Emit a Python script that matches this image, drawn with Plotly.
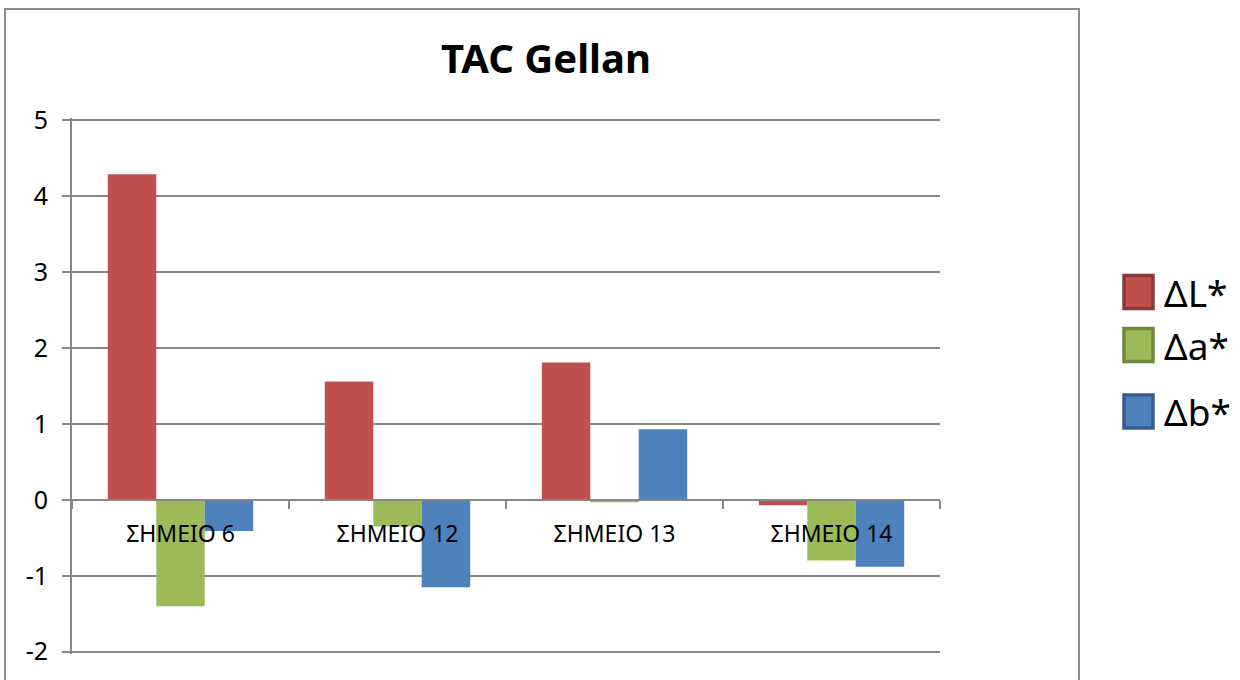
import plotly.graph_objects as go

# ---- data -------------------------------------------------------------
categories = ["ΣΗΜΕΙΟ 6", "ΣΗΜΕΙΟ 12", "ΣΗΜΕΙΟ 13", "ΣΗΜΕΙΟ 14"]
series_names = ["ΔL*", "Δa*", "Δb*"]
delta_L = [4.29, 1.56, 1.81, -0.07]
delta_a = [-1.40, -0.35, -0.03, -0.80]
delta_b = [-0.41, -1.15, 0.93, -0.88]
y_ticks = [-2, -1, 0, 1, 2, 3, 4, 5]

# ---- styling ------------------------------------------------------------
fills = ["#C0504D", "#9BBB59", "#4F81BD"]
edges = ["#8C3836", "#71893F", "#385D8A"]
grid_col = "#878787"
FONT = "Noto Sans"

W, H = 1240, 680
y_min, y_max = y_ticks[0], y_ticks[-1]
GL, GR, GT, GB = 72, 940, 120, 652   # where the outer gridlines sit, in pixels
eps = 0.03                            # range padding so end gridlines are drawn
unit = (GB - GT) / (y_max - y_min)
PL, PR = GL, GR
PT, PB = GT - eps * unit, GB + eps * unit


def px_x(p):
    return (p - PL) / (PR - PL)


def px_y(p):
    return (PB - p) / (PB - PT)


fig = go.Figure()
for name, vals, col in zip(series_names, [delta_L, delta_a, delta_b], fills):
    fig.add_trace(go.Bar(
        x=categories, y=vals, name=name,
        marker=dict(color=col, line=dict(width=0)),
        showlegend=False,
    ))

# outer chart frame
shapes = [dict(
    type="rect", xref="paper", yref="paper",
    x0=px_x(5), x1=px_x(1079), y0=px_y(720), y1=px_y(8.5),
    line=dict(color="#8C8C8C", width=2), fillcolor="rgba(0,0,0,0)",
    layer="below",
)]

# legend drawn at full size to the right of the frame
annotations = []
legend_rows = [292, 345, 411.5]
for name, fcol, ecol, cy in zip(series_names, fills, edges, legend_rows):
    shapes.append(dict(
        type="rect", xref="paper", yref="paper",
        x0=px_x(1124), x1=px_x(1153), y0=px_y(cy + 16.5), y1=px_y(cy - 16.5),
        line=dict(color=ecol, width=3.5), fillcolor=fcol,
    ))
    annotations.append(dict(
        text=name, xref="paper", yref="paper",
        x=px_x(1162), y=px_y(cy), xanchor="left", yanchor="middle",
        showarrow=False, font=dict(family=FONT, size=37, color="black"),
    ))

lo, hi = y_min - eps, y_max + eps
fig.update_layout(
    width=W, height=H, autosize=False,
    margin=dict(l=PL, r=W - PR, t=PT, b=H - PB, pad=0),
    paper_bgcolor="white", plot_bgcolor="white",
    barmode="group", bargap=0.33, bargroupgap=0,
    title=dict(
        text="<b>TAC Gellan</b>", xref="paper", yref="container",
        x=px_x(546), xanchor="center", y=1 - 59 / H, yanchor="middle",
        font=dict(family=FONT, size=40, color="black"),
    ),
    xaxis=dict(
        type="category", anchor="free",
        position=(0 - lo) / (hi - lo),
        showline=True, linecolor=grid_col, linewidth=2,
        ticks="outside", ticklen=8, tickwidth=2, tickcolor=grid_col,
        tickson="boundaries", showgrid=False,
        tickfont=dict(family=FONT, size=23, color="black"),
        ticklabelstandoff=14,
    ),
    yaxis=dict(
        range=[lo, hi],
        tickvals=y_ticks, ticktext=[str(t) for t in y_ticks],
        showgrid=True, gridcolor=grid_col, gridwidth=2,
        zeroline=True, zerolinecolor=grid_col, zerolinewidth=2,
        showline=True, linecolor=grid_col, linewidth=2,
        ticks="outside", ticklen=8, tickwidth=2, tickcolor=grid_col,
        tickfont=dict(family=FONT, size=25, color="black"),
        ticklabelstandoff=9,
    ),
    shapes=shapes, annotations=annotations,
    showlegend=False,
)

fig.write_html("out.html")
